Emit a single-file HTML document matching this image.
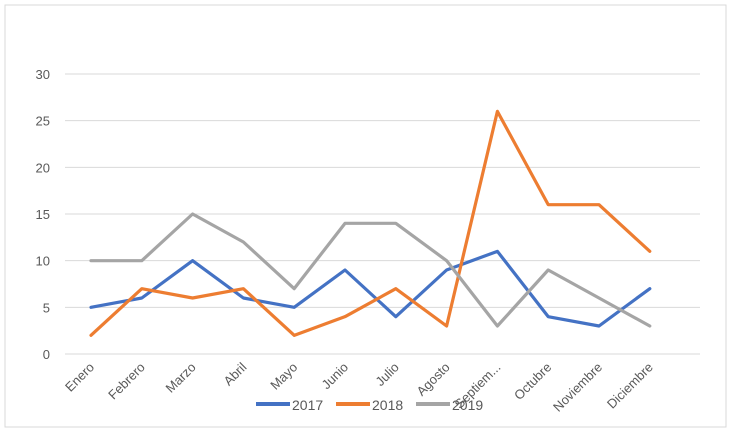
<!DOCTYPE html>
<html><head><meta charset="utf-8"><style>
body{margin:0;background:#fff;}
svg{display:block;font-family:"Liberation Sans",sans-serif;}
</style></head><body>
<svg id="c" width="730" height="436">
<rect x="5" y="5" width="721" height="422" fill="#fff" stroke="#d9d9d9"/>
<g id="grid"></g><g id="lines"></g><g id="labels"></g>
<g>
 <line x1="256" y1="404" x2="290" y2="404" stroke="#4472c4" stroke-width="4"/>
 <text x="292" y="410" font-size="14" fill="#595959">2017</text>
 <line x1="336" y1="404" x2="370" y2="404" stroke="#ed7d31" stroke-width="4"/>
 <text x="372" y="410" font-size="14" fill="#595959">2018</text>
 <line x1="416" y1="404" x2="450" y2="404" stroke="#a5a5a5" stroke-width="4"/>
 <text x="452" y="410" font-size="14" fill="#595959">2019</text>
</g>
</svg>
<script>
const categories=["Enero","Febrero","Marzo","Abril","Mayo","Junio","Julio","Agosto","Septiem...","Octubre","Noviembre","Diciembre"];
const s2017=[5,6,10,6,5,9,4,9,11,4,3,7];
const s2018=[2,7,6,7,2,4,7,3,26,16,16,11];
const s2019=[10,10,15,12,7,14,14,10,3,9,6,3];
const yTicks=[0,5,10,15,20,25,30];
const NS="http://www.w3.org/2000/svg";
const x=i=>91+i*50.8;
const y=v=>354-v*(280/30);
function mk(t,a,p){const e=document.createElementNS(NS,t);for(const k in a)e.setAttribute(k,a[k]);document.getElementById(p).appendChild(e);return e;}
yTicks.forEach(v=>{
 const l=mk("line",{x1:65,x2:700,y1:y(v),y2:y(v),stroke:"#d9d9d9","stroke-width":1},"grid");
 
 
 const t=mk("text",{x:50,y:y(v)+5,"font-size":13,fill:"#595959","text-anchor":"end"},"grid");
 t.textContent=v;
 
 
});
categories.forEach((c,i)=>{
 const t=mk("text",{x:x(i)+4,y:368,"font-size":13,fill:"#595959","text-anchor":"end",transform:`rotate(-45 ${x(i)+4} 368)`},"labels");
 t.textContent=c;
 
 
});
[[s2017,"#4472c4","2017"],[s2018,"#ed7d31","2018"],[s2019,"#a5a5a5","2019"]].forEach(([d,col,n])=>{
 const p=mk("polyline",{points:d.map((v,i)=>x(i)+","+y(v)).join(" "),fill:"none",stroke:col,"stroke-width":3.2,"stroke-linejoin":"round","stroke-linecap":"round"},"lines");
 
 
});
</script>
</body></html>
